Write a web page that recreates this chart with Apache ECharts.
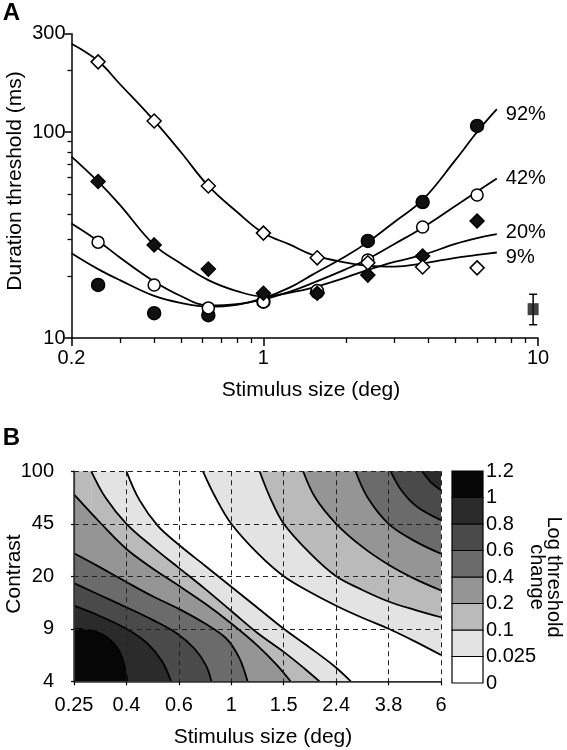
<!DOCTYPE html>
<html><head><meta charset="utf-8">
<script src="https://cdn.jsdelivr.net/npm/echarts@6/dist/echarts.min.js"></script>
<style>html,body{margin:0;padding:0;background:#fff}#c{width:567px;height:750px}</style>
</head><body><div id="c"></div>
<script>
// ---------- Panel A data ----------
const sizesA = [0.25, 0.4, 0.63, 1, 1.57, 2.4, 3.8, 6];
const thr92 = [18.1, 13.2, 12.9, 15.0, 16.7, 29.6, 45.7, 107];
const thr42 = [29.2, 18.1, 14.0, 15.0, 17.0, 23.9, 34.6, 49.4];
const thr20 = [57.5, 28.3, 21.6, 16.5, 16.5, 20.2, 25.0, 37];
const thr9  = [219, 113, 54.7, 32.3, 24.5, 23.2, 22.1, 21.9];
const fitSizes = [0.2, 0.25, 0.3, 0.4, 0.5, 0.63, 0.8, 1, 1.25, 1.5, 2, 2.4, 3, 3.8, 5, 6, 7.08];
const fit92 = [25.8, 21.6, 19.1, 16.0, 14.8, 14.2, 14.5, 15.6, 17.6, 20.2, 25.0, 29.2, 36.6, 46.8, 73, 100, 129];
const fit42 = [36, 29.6, 24.6, 18.8, 16.0, 14.4, 14.6, 15.4, 16.8, 18.4, 21.6, 24.2, 28.6, 34.3, 43.7, 51.4, 59.5];
const fit20 = [75.9, 57.4, 44.3, 28.3, 23.0, 19.1, 16.9, 15.9, 16.6, 17.5, 19.7, 21.4, 23.4, 25.3, 28.6, 30.5, 31.9];
const fit9  = [268, 221, 171, 113.5, 80, 54.7, 41, 32.3, 28.4, 25.4, 23.2, 22.4, 22.2, 23.0, 24.5, 25.3, 26.0];
const curveNames = ['92%', '42%', '20%', '9%'];
const refPoint = [9.6, 13.8];       // size, threshold
const refError = [11.6, 16.3];      // low, high
const majorX = [0.2, 1, 10];
const minorX = [0.3, 0.4, 0.5, 0.6, 0.7, 0.8, 0.9, 2, 3, 4, 5, 6, 7, 8, 9];
const majorY = [10, 100, 300];
const minorY = [20, 30, 40, 50, 60, 70, 80, 90, 200];

// ---------- Panel B data (grid index coordinates) ----------
const sizeLabelsB = ['0.25', '0.4', '0.6', '1', '1.5', '2.4', '3.8', '6'];
const contrastLabels = ['4', '9', '20', '45', '100'];
const cbLabels = ['0', '0.025', '0.1', '0.2', '0.4', '0.6', '0.8', '1', '1.2'];
const cbColors = ['#ffffff', '#e3e3e3', '#bababa', '#959595', '#6b6b6b', '#4a4a4a', '#2b2b2b', '#060606'];
// lower-left family of contour lines (level 0.025 ... 1.0)
const ll_0025 = [[1.0,4.0],[1.25,3.45],[1.6,2.96],[2.0,2.6],[2.5,2.2],[3.0,1.8],[3.5,1.4],[4.0,1.0],[4.5,0.64],[4.95,0.3],[5.28,0]];
const ll_01   = [[0.33,4.0],[0.6,3.5],[1.0,3.0],[1.5,2.56],[2.0,2.16],[2.5,1.76],[3.0,1.34],[3.5,0.92],[4.0,0.56],[4.4,0.24],[4.68,0]];
const ll_02   = [[0,3.56],[0.5,3.02],[1.0,2.52],[1.5,2.15],[2.0,1.82],[2.5,1.48],[3.0,1.1],[3.5,0.68],[3.88,0.3],[4.13,0]];
const ll_04   = [[0,2.44],[0.5,2.17],[1.0,1.89],[1.5,1.62],[2.0,1.38],[2.5,1.1],[2.9,0.82],[3.15,0.45],[3.31,0]];
const ll_06   = [[0,1.87],[0.5,1.64],[1.0,1.41],[1.5,1.17],[1.95,0.92],[2.3,0.62],[2.52,0.3],[2.62,0]];
const ll_08   = [[0,1.44],[0.5,1.24],[1.0,1.0],[1.4,0.72],[1.68,0.38],[1.85,0]];
const ll_10   = [[0,1.0],[0.4,0.95],[0.7,0.78],[0.9,0.5],[1.02,0]];
// upper-right family (level 0.025 ... 0.8)
const ur_0025 = [[2.46,4.0],[2.7,3.5],[3.0,3.0],[3.5,2.44],[4.0,2.0],[4.5,1.7],[5.0,1.44],[5.5,1.21],[6.0,1.0],[6.5,0.76],[7.0,0.5]];
const ur_01   = [[3.54,4.0],[3.74,3.5],[4.0,3.0],[4.5,2.44],[5.0,2.0],[5.5,1.74],[6.0,1.52],[6.5,1.36],[7.0,1.22]];
const ur_02   = [[4.37,4.0],[4.6,3.5],[5.0,3.0],[5.5,2.56],[6.0,2.22],[6.5,1.95],[7.0,1.73]];
const ur_04   = [[5.37,4.0],[5.6,3.5],[6.0,3.0],[6.5,2.67],[7.0,2.43]];
const ur_06   = [[6.04,4.0],[6.25,3.63],[6.55,3.32],[7.0,3.07]];
const ur_08   = [[6.64,4.0],[6.8,3.8],[7.0,3.64]];

const FONT = 'Liberation Sans, Arial, Helvetica, sans-serif';
const labelOffsets = [[0, 5], [0, 0], [0, -2], [0, 5]];
const zip = (xs, ys) => xs.map((x, i) => [x, ys[i]]);

const series = [];
// Panel A curves
[fit92, fit42, fit20, fit9].forEach((fit, k) => {
  series.push({
    type: 'line', name: curveNames[k], xAxisIndex: 0, yAxisIndex: 0,
    data: zip(fitSizes, fit), smooth: 0.4, symbol: 'none', z: 2,
    lineStyle: {color: '#000', width: 1.8},
    endLabel: {show: true, formatter: curveNames[k], fontSize: 20, fontFamily: FONT, color: '#000', distance: 9, offset: labelOffsets[k]}
  });
});
const markers = [
  {d: thr92, symbol: 'circle', size: 13, fill: '#111'},
  {d: thr42, symbol: 'circle', size: 12, fill: '#fff'},
  {d: thr20, symbol: 'diamond', size: 14, fill: '#111'},
  {d: thr9,  symbol: 'diamond', size: 14, fill: '#fff'}
];
markers.forEach(m => {
  series.push({
    type: 'scatter', xAxisIndex: 0, yAxisIndex: 0, z: 3,
    data: zip(sizesA, m.d), symbol: m.symbol, symbolSize: m.size,
    itemStyle: {color: m.fill, borderColor: '#000', borderWidth: 1.5, opacity: 1}
  });
});
series.push({
  type: 'custom', xAxisIndex: 0, yAxisIndex: 0, z: 3,
  data: [[refPoint[0], refError[0], refError[1]]],
  renderItem: function (params, api) {
    const lo = api.coord([api.value(0), api.value(1)]);
    const hi = api.coord([api.value(0), api.value(2)]);
    const w = 4;
    return {type: 'group', children: [
      {type: 'line', shape: {x1: lo[0], y1: lo[1], x2: hi[0], y2: hi[1]}, style: {stroke: '#000', lineWidth: 1.5}},
      {type: 'line', shape: {x1: lo[0]-w, y1: lo[1], x2: lo[0]+w, y2: lo[1]}, style: {stroke: '#000', lineWidth: 1.5}},
      {type: 'line', shape: {x1: hi[0]-w, y1: hi[1], x2: hi[0]+w, y2: hi[1]}, style: {stroke: '#000', lineWidth: 1.5}}
    ]};
  }
});
series.push({
  type: 'scatter', xAxisIndex: 0, yAxisIndex: 0, z: 4,
  data: [refPoint], symbol: 'rect', symbolSize: [11, 12], itemStyle: {color: '#111'}
});

// Panel B filled contours
const llLines = [ll_0025, ll_01, ll_02, ll_04, ll_06, ll_08, ll_10];
const urLines = [ur_0025, ur_01, ur_02, ur_04, ur_06, ur_08];
const SMOOTH = 0.35;
function fillSeries(data, origin, color) {
  return {type: 'line', xAxisIndex: 2, yAxisIndex: 2, data: data, smooth: SMOOTH,
    symbol: 'none', z: 1, silent: true, lineStyle: {opacity: 0, width: 0},
    areaStyle: {color: color, opacity: 1, origin: origin}};
}
const strokes = [];
for (let k = 0; k < llLines.length; k++) {
  const l = llLines[k];
  const col = cbColors[k + 1];
  if (l[0][1] === 4) {
    // area left of the point where the line meets the top edge
    series.push(fillSeries([[0, 4], [l[0][0], 4]], 'start', col));
  }
  series.push(fillSeries(l, 'start', col));
  strokes.push(l);
  if (urLines[k]) {
    series.push(fillSeries(urLines[k], 'end', col));
    strokes.push(urLines[k]);
  }
}
strokes.forEach(d => {
  series.push({
    type: 'line', xAxisIndex: 2, yAxisIndex: 2, data: d, smooth: SMOOTH,
    symbol: 'none', z: 3, silent: true,
    lineStyle: {color: '#000', width: 1.8}
  });
});
// colour bar
series.push({
  type: 'custom', xAxisIndex: 4, yAxisIndex: 4, z: 2,
  data: cbColors.map((c, k) => [k]),
  renderItem: function (params, api) {
    const k = api.value(0);
    const p0 = api.coord([0, k]);
    const p1 = api.coord([1, k + 1]);
    return {type: 'rect', shape: {x: p0[0], y: p1[1], width: p1[0] - p0[0], height: p0[1] - p1[1]},
      style: {fill: cbColors[k], stroke: '#000', lineWidth: 1.2}};
  }
});

const txt = {color: '#000', fontSize: 20, fontFamily: FONT};
const option = {
  animation: false,
  backgroundColor: '#fff',
  grid: [
    {left: 71.5, top: 33.7, width: 466.5, height: 304.3},
    {left: 74, top: 471.3, width: 367, height: 210},
    {left: 452, top: 471, width: 31, height: 212}
  ],
  xAxis: [
    {gridIndex: 0, type: 'log', logBase: 10, min: 0.2, max: 10, position: 'bottom',
      axisLine: {lineStyle: {color: '#000', width: 1.5}},
      axisTick: {customValues: majorX, length: 8, lineStyle: {color: '#000', width: 1.5}},
      axisLabel: Object.assign({customValues: majorX, margin: 10}, txt),
      splitLine: {show: false}},
    {gridIndex: 0, type: 'log', logBase: 10, min: 0.2, max: 10, position: 'bottom', offset: 0,
      axisLine: {show: false}, axisLabel: {show: false}, splitLine: {show: false},
      axisTick: {customValues: minorX, length: 5, lineStyle: {color: '#000', width: 1.3}}},
    {gridIndex: 1, type: 'value', min: 0, max: 7, interval: 1, z: 4, position: 'bottom',
      axisLine: {lineStyle: {color: '#333', width: 1.2}},
      axisTick: {length: 4, lineStyle: {color: '#000', width: 1.2}},
      axisLabel: Object.assign({margin: 14, formatter: v => sizeLabelsB[v]}, txt),
      splitLine: {show: true, lineStyle: {color: '#222', width: 1, type: [5, 4]}}},
    {gridIndex: 1, type: 'value', position: 'top', min: 0, max: 7, interval: 1, z: 4,
      axisLine: {lineStyle: {color: '#333', width: 1.5}}, axisTick: {show: false},
      axisLabel: {show: false}, splitLine: {show: false}},
    {gridIndex: 2, type: 'value', min: 0, max: 1, show: false}
  ],
  yAxis: [
    {gridIndex: 0, type: 'log', logBase: 10, min: 10, max: 300, position: 'left',
      axisLine: {lineStyle: {color: '#000', width: 1.5}},
      axisTick: {customValues: majorY, length: 7, lineStyle: {color: '#000', width: 1.5}},
      axisLabel: Object.assign({customValues: majorY, margin: 6}, txt),
      splitLine: {show: false}},
    {gridIndex: 0, type: 'log', logBase: 10, min: 10, max: 300, position: 'left', offset: 0,
      axisLine: {show: false}, axisLabel: {show: false}, splitLine: {show: false},
      axisTick: {customValues: minorY, length: 4, lineStyle: {color: '#000', width: 1.3}}},
    {gridIndex: 1, type: 'value', min: 0, max: 4, interval: 1, z: 4, position: 'left',
      axisLine: {lineStyle: {color: '#333', width: 1.2}},
      axisTick: {length: 3, lineStyle: {color: '#000', width: 1.2}},
      axisLabel: Object.assign({margin: 20, formatter: v => contrastLabels[v]}, txt),
      splitLine: {show: true, lineStyle: {color: '#222', width: 1, type: [5, 4]}}},
    {gridIndex: 1, type: 'value', position: 'right', min: 0, max: 4, interval: 1, z: 4,
      axisLine: {lineStyle: {color: '#333', width: 1.5}}, axisTick: {show: false},
      axisLabel: {show: false}, splitLine: {show: false}},
    {gridIndex: 2, type: 'value', position: 'right', min: 0, max: 8, interval: 1,
      axisLine: {show: false}, axisTick: {show: false}, splitLine: {show: false},
      axisLabel: Object.assign({margin: 3, formatter: v => cbLabels[v]}, txt)}
  ],
  graphic: [
    {type: 'text', x: 11.5, y: 13.5, style: {text: 'A', font: 'bold 24px ' + FONT, fill: '#000', align: 'center', verticalAlign: 'middle'}},
    {type: 'text', x: 11.5, y: 438, style: {text: 'B', font: 'bold 24px ' + FONT, fill: '#000', align: 'center', verticalAlign: 'middle'}},
    {type: 'text', x: 15, y: 181, rotation: Math.PI / 2, style: {text: 'Duration threshold (ms)', font: '21px ' + FONT, fill: '#000', align: 'center', verticalAlign: 'middle'}},
    {type: 'text', x: 311, y: 390, style: {text: 'Stimulus size (deg)', font: '21px ' + FONT, fill: '#000', align: 'center', verticalAlign: 'middle'}},
    {type: 'text', x: 14, y: 574, rotation: Math.PI / 2, style: {text: 'Contrast', font: '21px ' + FONT, fill: '#000', align: 'center', verticalAlign: 'middle'}},
    {type: 'text', x: 263, y: 737, style: {text: 'Stimulus size (deg)', font: '21px ' + FONT, fill: '#000', align: 'center', verticalAlign: 'middle'}},
    {type: 'text', x: 545, y: 577, rotation: -Math.PI / 2, style: {text: 'Log threshold\nchange', font: '20px ' + FONT, lineHeight: 17, fill: '#000', align: 'center', verticalAlign: 'middle'}}
  ],
  series: series
};
const chart = echarts.init(document.getElementById('c'), null, {renderer: 'canvas'});
chart.setOption(option);
</script>
</body></html>
